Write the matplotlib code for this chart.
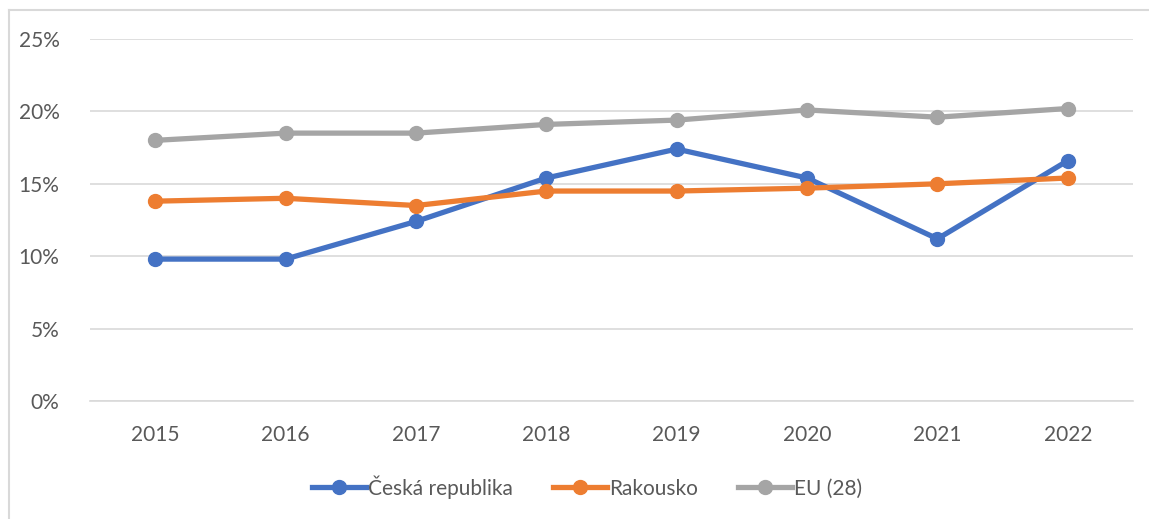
import matplotlib.pyplot as plt
from matplotlib.lines import Line2D

years = ['2015', '2016', '2017', '2018', '2019', '2020', '2021', '2022']
cz = [9.8, 9.8, 12.4, 15.4, 17.4, 15.4, 11.2, 16.6]
at = [13.8, 14.0, 13.5, 14.5, 14.5, 14.7, 15.0, 15.4]
eu = [18.0, 18.5, 18.5, 19.1, 19.4, 20.1, 19.6, 20.2]
labels = ['Česká republika', 'Rakousko', 'EU (28)']
colors = ['#4472C4', '#ED7D31', '#A5A5A5']

plt.rcParams['font.family'] = ['Lato', 'DejaVu Sans']

fig = plt.figure(figsize=(11.49, 5.19), dpi=100)
ax = fig.add_axes([90 / 1149, 118 / 519, 1043 / 1149, 362 / 519])

x = range(len(years))
for ys, label, color in zip([cz, at, eu], labels, colors):
    ax.plot(x, ys, color=color, linewidth=3.8, marker='o', markersize=10,
            label=label, solid_capstyle='round', zorder=3)

ax.set_xlim(-0.5, len(years) - 0.5)
ax.set_ylim(0, 25)
ax.set_yticks(range(0, 26, 5))
ax.set_yticklabels([f'{v}%' for v in range(0, 26, 5)])
ax.set_xticks(list(x))
ax.set_xticklabels(years)
ax.grid(axis='y', color='#D9D9D9', linewidth=1.2)
ax.set_axisbelow(True)
for side in ['top', 'right', 'left']:
    ax.spines[side].set_visible(False)
ax.spines['bottom'].set_color('#D9D9D9')
ax.spines['bottom'].set_linewidth(1.2)
ax.tick_params(length=0, labelsize=15, colors='#595959')
ax.tick_params(axis='x', pad=17)
ax.tick_params(axis='y', pad=22)

handles = [Line2D([], [], color=c, linewidth=3.8, marker='o', markersize=10)
           for c in colors]
fig.legend(handles, labels, loc='center', bbox_to_anchor=(587 / 1149, 1 - 487 / 519),
           ncol=3, frameon=False, fontsize=15, labelcolor='#595959',
           handlelength=2.6, handletextpad=0.1, columnspacing=1.9)

# outer chart border
fig.add_artist(plt.Line2D([8.5 / 1149, 8.5 / 1149], [0, 1 - 10 / 519], color='#D9D9D9',
                          linewidth=1.5, transform=fig.transFigure))
fig.add_artist(plt.Line2D([8.5 / 1149, 1], [1 - 10 / 519, 1 - 10 / 519], color='#D9D9D9',
                          linewidth=1.5, transform=fig.transFigure))

fig.savefig('out.png', dpi=100)
